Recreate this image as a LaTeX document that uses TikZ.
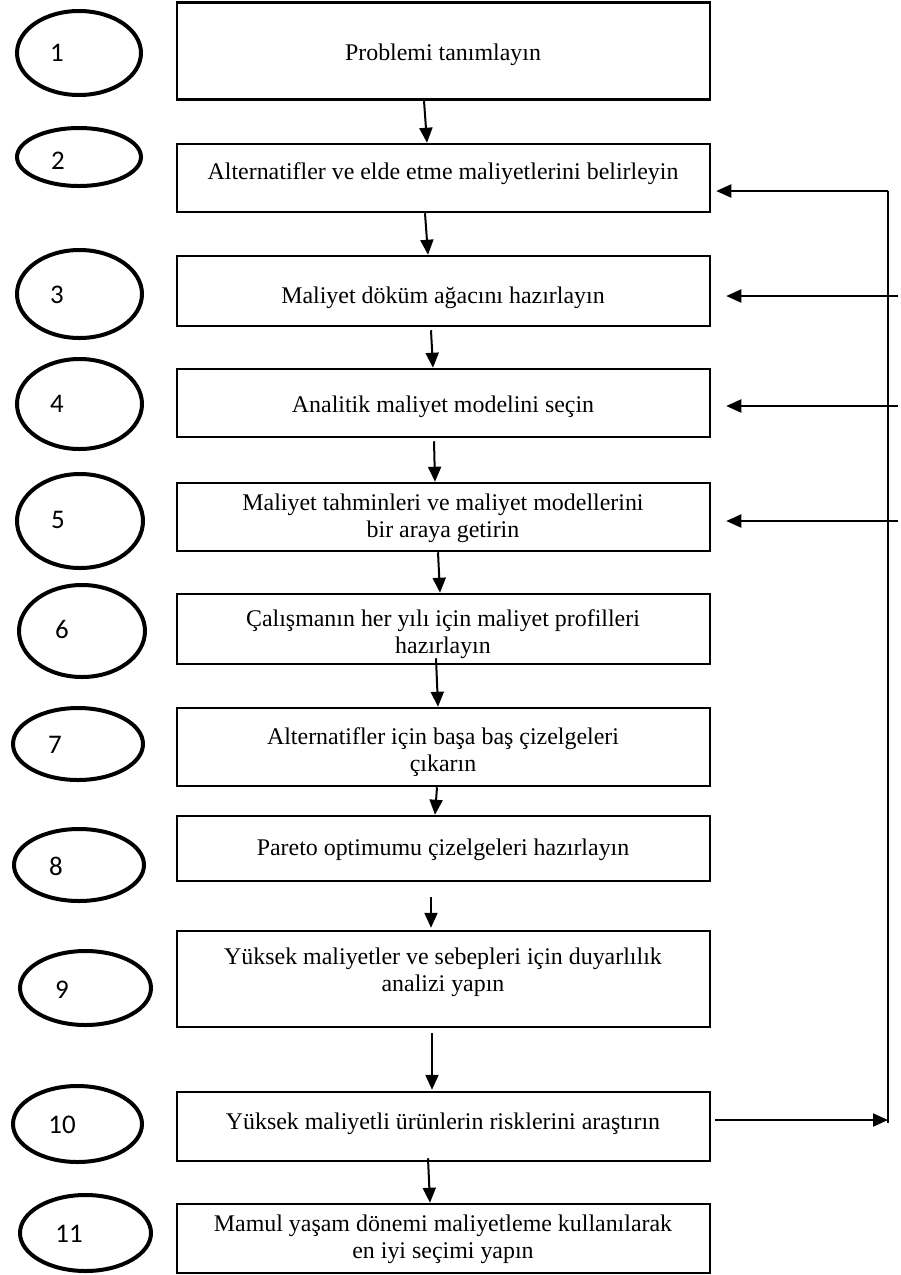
\documentclass[tikz,border=0pt]{standalone}
\usepackage{fontspec}
\setmainfont{Liberation Serif}
\newfontfamily\numfont{Carlito}
\usetikzlibrary{shapes.geometric,arrows.meta,calc}
\begin{document}
\begin{tikzpicture}[x=1bp,y=-1bp,
  stepbox/.style={draw, line width=2.5bp, minimum width=533bp, inner sep=0pt},
  oval/.style={draw, ellipse, line width=4bp, inner sep=0pt},
  num/.style={font=\numfont\fontsize{27}{30}\selectfont, inner sep=0pt, anchor=center},
  lbl/.style={font=\fontsize{24}{27}\selectfont, align=center, anchor=base, inner sep=0pt},
  arr/.style={line width=2bp, -{Triangle[length=15bp,width=13bp]}},
  fb/.style={line width=2bp}]
\useasboundingbox (0,0) rectangle (901,1275);

% step boxes
\node[stepbox, minimum height=97bp] (b1) at (443.5,51) {};
\node[stepbox, minimum height=68bp] (b2) at (443.5,178) {};
\node[stepbox, minimum height=70bp] (b3) at (443.5,291) {};
\node[stepbox, minimum height=68bp] (b4) at (443.5,403) {};
\node[stepbox, minimum height=68bp] (b5) at (443.5,517) {};
\node[stepbox, minimum height=70bp] (b6) at (443.5,629) {};
\node[stepbox, minimum height=78bp] (b7) at (443.5,747) {};
\node[stepbox, minimum height=65bp] (b8) at (443.5,848.5) {};
\node[stepbox, minimum height=96bp] (b9) at (443.5,979) {};
\node[stepbox, minimum height=69bp] (b10) at (443.5,1126.5) {};
\node[stepbox, minimum height=69bp] (b11) at (443.5,1238.5) {};

% step texts (two-line labels are anchored on their last baseline)
\node[lbl] (t1) at (443,60) {Problemi tanımlayın};
\node[lbl] (t2) at (443,179) {Alternatifler ve elde etme maliyetlerini belirleyin};
\node[lbl] (t3) at (443,303) {Maliyet döküm ağacını hazırlayın};
\node[lbl] (t4) at (443,412) {Analitik maliyet modelini seçin};
\node[lbl] (t5) at (443,537) {Maliyet tahminleri ve maliyet modellerini\\bir araya getirin};
\node[lbl] (t6) at (443,653) {Çalışmanın her yılı için maliyet profilleri\\hazırlayın};
\node[lbl] (t7) at (443,771) {Alternatifler için başa baş çizelgeleri\\çıkarın};
\node[lbl] (t8) at (443,855) {Pareto optimumu çizelgeleri hazırlayın};
\node[lbl] (t9) at (443,991) {Yüksek maliyetler ve sebepleri için duyarlılık\\analizi yapın};
\node[lbl] (t10) at (443,1129) {Yüksek maliyetli ürünlerin risklerini araştırın};
\node[lbl] (t11) at (443,1258) {Mamul yaşam dönemi maliyetleme kullanılarak\\en iyi seçimi yapın};

% numbered ovals
\node[oval, minimum width=124bp, minimum height=84bp] (e1) at (79,53) {};
\node[oval, minimum width=124bp, minimum height=58bp] (e2) at (79,157) {};
\node[oval, minimum width=125bp, minimum height=88bp] (e3) at (79.5,294) {};
\node[oval, minimum width=125bp, minimum height=90bp] (e4) at (79.5,404) {};
\node[oval, minimum width=126bp, minimum height=94bp] (e5) at (80,521) {};
\node[oval, minimum width=126bp, minimum height=92bp] (e6) at (82,631) {};
\node[oval, minimum width=130bp, minimum height=72bp] (e7) at (78,744) {};
\node[oval, minimum width=130bp, minimum height=72bp] (e8) at (79,865) {};
\node[oval, minimum width=131bp, minimum height=74bp] (e9) at (85.5,988) {};
\node[oval, minimum width=129bp, minimum height=76bp] (e10) at (77.5,1124) {};
\node[oval, minimum width=131bp, minimum height=76bp] (e11) at (85.5,1233) {};

\node[num] (n1) at ($(e1.center)+(-22,0)$) {1};
\node[num] (n2) at (58,161) {2};
\node[num] (n3) at (57,295) {3};
\node[num] (n4) at (57,404) {4};
\node[num] (n5) at (58,520) {5};
\node[num] (n6) at (62,630) {6};
\node[num] (n7) at (55,745) {7};
\node[num] (n8) at (56,866) {8};
\node[num] (n9) at (62,990) {9};
\node[num] (n10) at (62,1125) {10};
\node[num] (n11) at (69,1234) {11};

% downward flow
\draw[arr] ($(b1.south)+(-19.5,0)$) -- ($(b2.north)+(-16.5,0)$);
\draw[arr] ($(b2.south)+(-18.5,0)$) -- ($(b3.north)+(-15.5,0)$);
\draw[arr] ($(b3.south)+(-12.5,3)$) -- ($(b4.north)+(-10.5,0)$);
\draw[arr] ($(b4.south)+(-9.5,3)$) -- ($(b5.north)+(-8.5,0)$);
\draw[arr] ($(b5.south)+(-5.5,0)$) -- ($(b6.north)+(-3.5,0)$);
\draw[arr] ($(b6.south)+(-7.5,-7)$) -- ($(b7.north)+(-5.5,0)$);
\draw[arr] ($(b7.south)+(-6.5,0)$) -- ($(b8.north)+(-8.5,0)$);
\draw[arr] ($(b8.south)+(-12.5,15)$) -- ($(b9.north)+(-12.5,-2)$);
\draw[arr] ($(b9.south)+(-11.5,5)$) -- ($(b10.north)+(-11.5,-1)$);
\draw[arr] ($(b10.south)+(-15.5,-4)$) -- ($(b11.north)+(-13.5,0)$);

% feedback loop on the right
\coordinate (fbtop) at (888,191);
\coordinate (fbbot) at (888,1123);
\coordinate (in3) at (898,296);
\coordinate (in4) at (898,406);
\coordinate (in5) at (898,521);
\coordinate (out10) at (888,1120);
\draw[fb] (fbtop) -- (fbbot);
\draw[arr] (fbtop) -- ($(b2.east |- fbtop)+(5,0)$);
\draw[arr] (in3) -- ($(b3.east |- in3)+(15,0)$);
\draw[arr] (in4) -- ($(b4.east |- in4)+(15,0)$);
\draw[arr] (in5) -- ($(b5.east |- in5)+(15,0)$);
\draw[arr] ($(b10.east |- out10)+(4,0)$) -- (out10);
\end{tikzpicture}
\end{document}
